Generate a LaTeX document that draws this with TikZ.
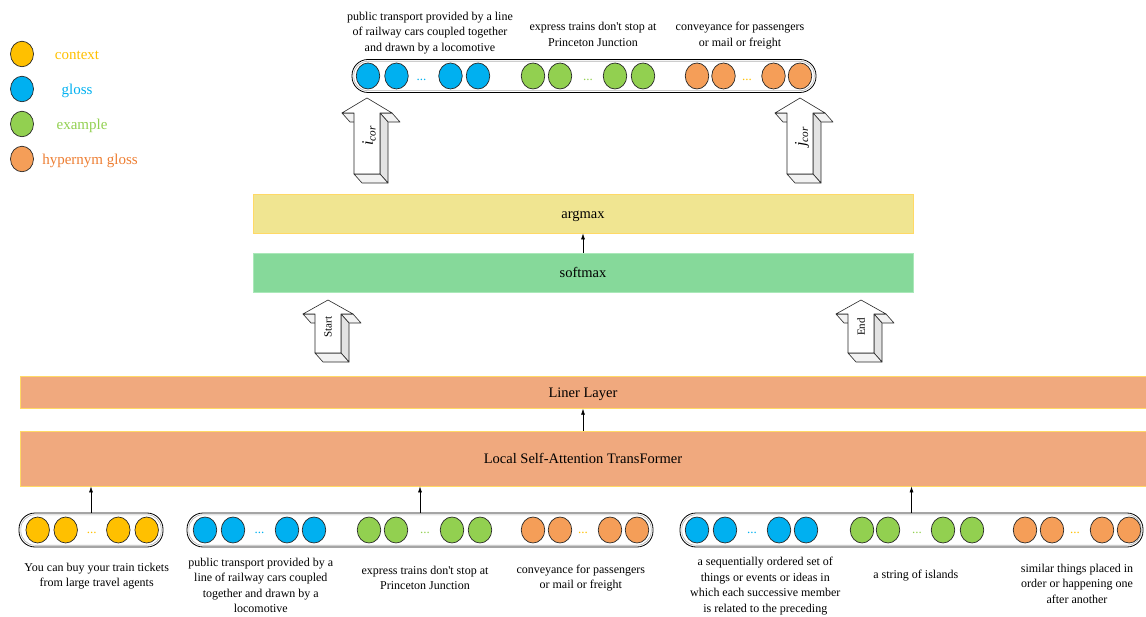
\documentclass[tikz,border=0pt]{standalone}
\usepackage{fontspec}
\setmainfont{Liberation Serif}
\usetikzlibrary{arrows.meta,shapes.geometric,calc}
\definecolor{cyel}{RGB}{255,192,0}
\definecolor{cblu}{RGB}{0,176,240}
\definecolor{cgrn}{RGB}{146,208,80}
\definecolor{corg}{RGB}{245,158,88}
\definecolor{torg}{RGB}{237,125,49}
\definecolor{argf}{RGB}{240,229,145}
\definecolor{sftf}{RGB}{134,217,154}
\definecolor{sftd}{RGB}{170,232,185}
\definecolor{linf}{RGB}{240,169,126}
\definecolor{bordy}{RGB}{255,217,102}
\newcommand\tdarrow[4]{%
 \filldraw[arrface, fill=gray!10] ({#1-25},#3) -- ({#1-13},#3) -- ({#1-5},{#3+9}) -- ({#1-17},{#3+9}) -- cycle;
 \filldraw[arrface, fill=gray!10] ({#1+13},#3) -- ({#1+25},#3) -- ({#1+33},{#3+9}) -- ({#1+21},{#3+9}) -- cycle;
 \filldraw[arrface, fill=gray!22] ({#1+13},#3) -- ({#1+21},{#3+9}) -- ({#1+21},{#4+9}) -- ({#1+13},#4) -- cycle;
 \filldraw[arrface, fill=gray!10] ({#1-13},#4) -- ({#1+13},#4) -- ({#1+21},{#4+9}) -- ({#1-5},{#4+9}) -- cycle;
 \filldraw[arrface, fill=white] (#1,#2) -- ({#1+25},#3) -- ({#1+13},#3) -- ({#1+13},#4) -- ({#1-13},#4) -- ({#1-13},#3) -- ({#1-25},#3) -- cycle;
}
\newcommand\seqinner[1]{%
 \draw[gray!60, line width=0.6pt, rounded corners=14pt] ($(#1.south west)+(2.2,-2.2)$) rectangle ($(#1.north east)+(-2.2,2.2)$);
}
\newcommand\apo{\textquotesingle}
\begin{document}
\begin{tikzpicture}[x=1pt,y=-1pt,
  ball/.style={ellipse, draw=black!85, line width=0.7pt, minimum width=23.5pt, minimum height=26pt, inner sep=0pt},
  lball/.style={ellipse, draw=black!85, line width=0.7pt, minimum width=23pt, minimum height=25.5pt, inner sep=0pt},
  seqbox/.style={draw=black, line width=0.8pt, rounded corners=16pt, minimum height=33pt, inner sep=0pt},
  dots/.style={font=\fontsize{13}{13}\selectfont, inner sep=0pt},
  leg/.style={font=\fontsize{15}{15}\selectfont, text height=10pt, text depth=3pt, inner sep=0pt},
  txt/.style={font=\fontsize{12}{15.5}\selectfont, align=center, inner sep=0pt},
  layer/.style={line width=0.8pt, inner sep=0pt, text height=11pt, text depth=0pt, font=\fontsize{14.5}{14.5}\selectfont},
  arr/.style={-{Latex[length=6pt,width=4pt]}, line width=0.6pt},
  arrface/.style={draw=black!85, line width=0.6pt, line join=round},
  lab/.style={rotate=90, inner sep=0pt}]
\useasboundingbox (0,0) rectangle (1146,617);

% legend
\node[lball, fill=cyel] (lc1) at (22,54) {};
\node[lball, fill=cblu] (lc2) at (22,89) {};
\node[lball, fill=cgrn] (lc3) at (22,124) {};
\node[lball, fill=corg] (lc4) at (22,159) {};
\node[leg, text=cyel] (lt1) at (77,56) {context};
\node[leg, text=cblu] (lt2) at (77,91) {gloss};
\node[leg, text=cgrn] (lt3) at (82,126) {example};
\node[leg, text=torg] (lt4) at (90,161) {hypernym gloss};

% top sequence
\node[seqbox, minimum width=464pt] (tb) at (584,76) {};
\seqinner{tb}
\foreach \x [count=\i] in {368,396.5,450.5,478} \node[ball, fill=cblu] (tbl\i) at (\x,76) {};
\foreach \x [count=\i] in {533,560,615,643} \node[ball, fill=cgrn] (tgr\i) at (\x,76) {};
\foreach \x [count=\i] in {697,723.5,773.5,800} \node[ball, fill=corg] (tor\i) at (\x,76) {};
\node[dots, text=cblu] (tbd) at (421.5,80) {...};
\node[dots, text=cgrn] (tgd) at (588,80) {...};
\node[dots, text=cyel] (tod) at (747,80) {...};
\node[txt] (tt1) at (430,33) {public transport provided by a line\\of railway cars coupled together\\and drawn by a locomotive};
\node[txt] (tt2) at (593,34.5) {express trains don\apo t stop at\\Princeton Junction};
\node[txt] (tt3) at (740,35.5) {conveyance for passengers\\or mail or freight};

% 3D arrows
\tdarrow{367}{98}{113}{174}
\node[lab, font=\fontsize{16}{16}\selectfont] (icor) at (369,136) {\textit{i}\textsubscript{\textit{cor}}};
\tdarrow{800}{98}{113}{174}
\node[lab, font=\fontsize{16}{16}\selectfont] (jcor) at (802,137) {\textit{j}\textsubscript{\textit{cor}}};
\tdarrow{328}{300}{314}{353}
\node[lab, font=\fontsize{11}{11}\selectfont] (st) at (328,327) {Start};
\tdarrow{861}{300}{314}{353}
\node[lab, font=\fontsize{11}{11}\selectfont] (en) at (861,327) {End};

% layers
\node[layer, draw=bordy, fill=argf, minimum width=660pt, minimum height=39pt] (am) at (583,213.5) {argmax};
\node[layer, draw=sftd, fill=sftf, minimum width=660pt, minimum height=39pt] (sm) at (583,272.5) {softmax};
\node[layer, draw=bordy, fill=linf, minimum width=1126pt, minimum height=32pt] (ll) at (583,392.3) {Liner Layer};
\node[layer, draw=bordy, fill=linf, minimum width=1126pt, minimum height=55pt] (lt) at (583,458.5) {Local Self-Attention TransFormer};
\draw[arr] (sm.north) -- (am.south);
\draw[arr] (lt.north) -- (ll.south);

% bottom sequences
\node[seqbox, minimum width=144pt, minimum height=34pt] (b1) at (91,530) {};
\seqinner{b1}
\node[seqbox, minimum width=466pt, minimum height=34pt] (b2) at (420,530) {};
\seqinner{b2}
\node[seqbox, minimum width=463pt, minimum height=34pt] (b3) at (911.5,530) {};
\seqinner{b3}
\foreach \x [count=\i] in {37.7,65.7,118.3,146.7} \node[ball, fill=cyel] (bye\i) at (\x,530) {};
\node[dots, text=cyel] (byd) at (91.7,533) {...};
\foreach \x [count=\i] in {205,233,287,314} \node[ball, fill=cblu] (bbl\i) at (\x,530) {};
\node[dots, text=cblu] (bbd) at (259.5,533) {...};
\foreach \x [count=\i] in {369,396,452,480} \node[ball, fill=cgrn] (bgr\i) at (\x,530) {};
\node[dots, text=cgrn] (bgd) at (425,533) {...};
\foreach \x [count=\i] in {533,560,610,637} \node[ball, fill=corg] (bor\i) at (\x,530) {};
\node[dots, text=cyel] (bod) at (583,533) {...};
\foreach \x [count=\i] in {697,725,779,806} \node[ball, fill=cblu] (cbl\i) at (\x,530) {};
\node[dots, text=cblu] (cbd) at (752,533) {...};
\foreach \x [count=\i] in {862,888,943,972} \node[ball, fill=cgrn] (cgr\i) at (\x,530) {};
\node[dots, text=cgrn] (cgd) at (917,533) {...};
\foreach \x [count=\i] in {1025,1052,1102,1129} \node[ball, fill=corg] (cor\i) at (\x,530) {};
\node[dots, text=cyel] (cod) at (1075,533) {...};

\draw[arr] (b1.north) -- (b1.north |- lt.south);
\draw[arr] (b2.north) -- (b2.north |- lt.south);
\draw[arr] (b3.north) -- (b3.north |- lt.south);

% bottom texts
\node[txt] (x1) at (96.7,576) {You can buy your train tickets\\from large travel agents};
\node[txt] (x2) at (260.8,585.5) {public transport provided by a\\line of railway cars coupled\\together and drawn by a\\locomotive};
\node[txt] (x3) at (425,578) {express trains don\apo t stop at\\Princeton Junction};
\node[txt] (x4) at (580.8,578) {conveyance for passengers\\or mail or freight};
\node[txt] (x5) at (765.3,586) {a sequentially ordered set of\\things or events or ideas in\\which each successive member\\is related to the preceding};
\node[txt] (x6) at (915.8,576) {a string of islands};
\node[txt] (x7) at (1077,583.5) {similar things placed in\\order or happening one\\after another};
\end{tikzpicture}
\end{document}
